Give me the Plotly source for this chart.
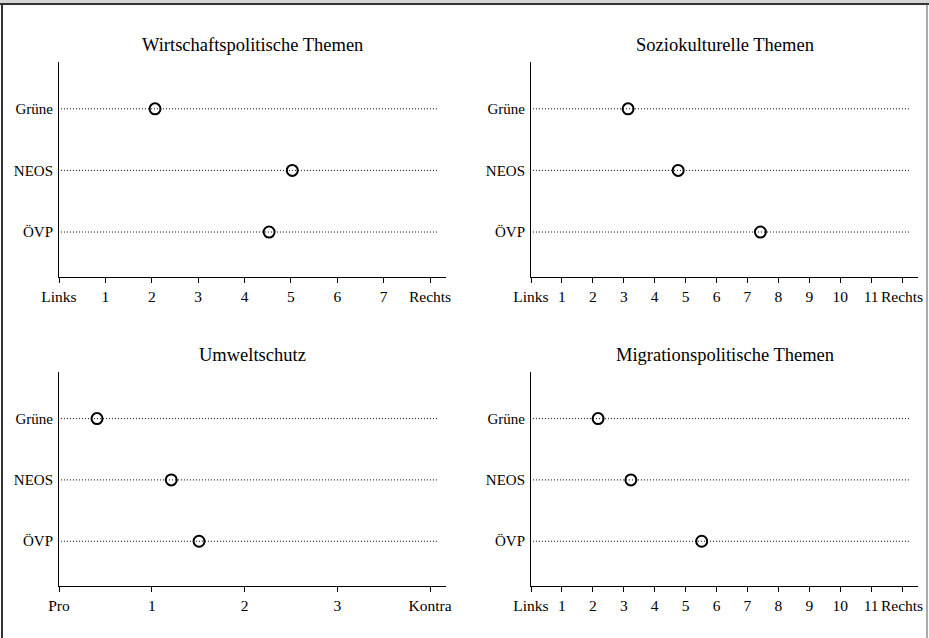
import plotly.graph_objects as go

W, H = 929, 638

parties = ["Grüne", "NEOS", "ÖVP"]
cat_order = ["ÖVP", "NEOS", "Grüne"]

titles = ["Wirtschaftspolitische Themen", "Soziokulturelle Themen",
          "Umweltschutz", "Migrationspolitische Themen"]

wirtschaft = [2.07, 5.03, 4.53]
sozio = [3.14, 4.76, 7.42]
umwelt = [0.41, 1.21, 1.51]
migration = [2.17, 3.23, 5.52]

ticks_w = ["Links", "1", "2", "3", "4", "5", "6", "7", "Rechts"]
ticks_s = ["Links", "1", "2", "3", "4", "5", "6", "7", "8", "9", "10", "11", "Rechts"]
ticks_u = ["Pro", "1", "2", "3", "Kontra"]
ticks_m = ["Links", "1", "2", "3", "4", "5", "6", "7", "8", "9", "10", "11", "Rechts"]

panels = [
    (titles[0], wirtschaft, ticks_w),
    (titles[1], sozio, ticks_s),
    (titles[2], umwelt, ticks_u),
    (titles[3], migration, ticks_m),
]

FONT = "Liberation Serif, Times New Roman, serif"

# pixel geometry
xdoms_px = [(59, 446), (531, 918), (59, 446), (531, 918)]
ydoms_px = [(62, 277), (62, 277), (372, 586), (372, 586)]
title_px = [45, 45, 355, 355]

fig = go.Figure()
layout = dict(
    width=W, height=H,
    margin=dict(l=0, r=0, t=0, b=0),
    paper_bgcolor="white", plot_bgcolor="white",
    showlegend=False,
    font=dict(family=FONT, size=16, color="black"),
)
annotations = []
shapes = []

for i, (title, vals, tlabels) in enumerate(panels):
    n = i + 1
    xa = "x" if n == 1 else f"x{n}"
    ya = "y" if n == 1 else f"y{n}"
    xkey = "xaxis" if n == 1 else f"xaxis{n}"
    ykey = "yaxis" if n == 1 else f"yaxis{n}"
    x0p, x1p = xdoms_px[i]
    ytp, ybp = ydoms_px[i]
    nmax = len(tlabels) - 1
    layout[xkey] = dict(
        domain=[x0p / W, x1p / W], anchor=ya, automargin=False,
        range=[0, nmax * 1.043],
        tickvals=list(range(nmax + 1)), ticktext=tlabels, tickangle=0,
        ticks="outside", ticklen=5, tickwidth=1, tickcolor="black",
        showline=True, linecolor="black", linewidth=1,
        showgrid=False, zeroline=False, fixedrange=True,
        tickfont=dict(family=FONT, size=15.5, color="black"),
    )
    layout[ykey] = dict(
        domain=[1 - ybp / H, 1 - ytp / H], anchor=xa, automargin=False,
        type="category", categoryorder="array", categoryarray=cat_order,
        range=[-0.73, 2.76],
        ticks="", showline=True, linecolor="black", linewidth=1,
        showgrid=False, zeroline=False, fixedrange=True,
        tickfont=dict(family=FONT, size=15, color="black"),
        ticklabelstandoff=2,
    )
    for p in parties:
        shapes.append(dict(type="line", xref=f"{xa} domain", yref=ya,
                           x0=0.005, x1=0.977, y0=p, y1=p,
                           line=dict(color="black", width=1, dash="1px,2px"),
                           layer="below"))
    fig.add_trace(go.Scatter(
        x=vals, y=parties, xaxis=xa, yaxis=ya, mode="markers",
        marker=dict(symbol="circle-open", size=11, color="black",
                    line=dict(width=2, color="black")),
        hoverinfo="x+y",
    ))
    annotations.append(dict(
        text=title, xref=f"{xa} domain", x=0.5, yref="paper",
        y=1 - title_px[i] / H, yanchor="middle", xanchor="center",
        showarrow=False, font=dict(family=FONT, size=18.5, color="black"),
    ))

# frame: gray band at top, dark lines
shapes.append(dict(type="rect", xref="paper", yref="paper", x0=0, x1=1,
                   y0=1 - 4 / H, y1=1, fillcolor="#d6d6d6", line=dict(width=0)))
shapes.append(dict(type="line", xref="paper", yref="paper", x0=0, x1=1,
                   y0=1 - 4 / H, y1=1 - 4 / H, line=dict(color="#333333", width=2)))
shapes.append(dict(type="line", xref="paper", yref="paper", x0=2 / W, x1=2 / W,
                   y0=0, y1=1 - 4 / H, line=dict(color="#333333", width=2)))
shapes.append(dict(type="line", xref="paper", yref="paper", x0=927 / W, x1=927 / W,
                   y0=0, y1=1 - 4 / H, line=dict(color="#555555", width=1)))

layout["annotations"] = annotations
layout["shapes"] = shapes
fig.update_layout(**layout)
fig.write_html("out.html", config={"displayModeBar": False})
